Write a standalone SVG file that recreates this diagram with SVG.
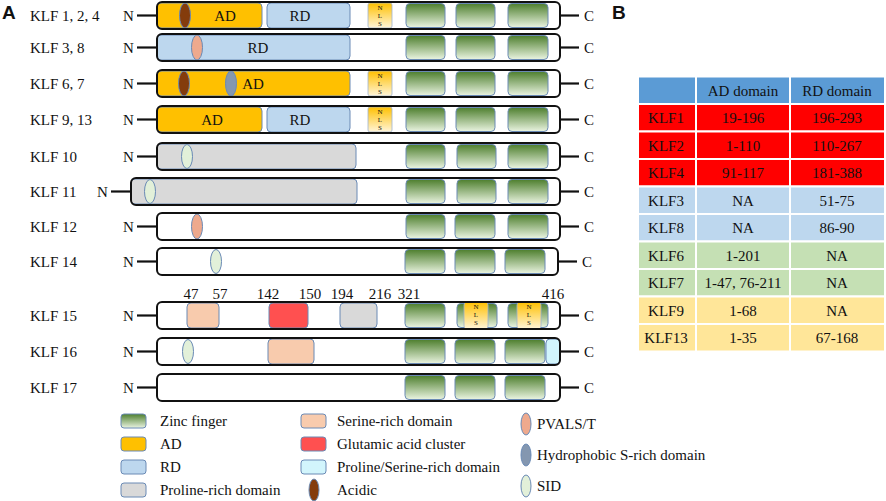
<svg xmlns="http://www.w3.org/2000/svg" width="886" height="501" viewBox="0 0 886 501">
<defs>
<linearGradient id="gzf" x1="0" y1="0" x2="0" y2="1"><stop offset="0" stop-color="#4e7f2e"/><stop offset="1" stop-color="#eaf4e1"/></linearGradient>
<linearGradient id="gnls" x1="0" y1="0" x2="0" y2="1"><stop offset="0" stop-color="#ffc000"/><stop offset="1" stop-color="#fff5da"/></linearGradient>
</defs>
<style>
text{font-family:"Liberation Serif","Times New Roman",serif;font-size:15px;fill:#111}
.hd{font-family:"Liberation Sans",Arial,sans-serif;font-weight:bold;font-size:19px}
.mid{text-anchor:middle}
.nl{font-size:7px;text-anchor:middle}
.bg{fill:#fff}
.bar{fill:none;stroke:#111;stroke-width:2}
.zf{fill:url(#gzf);stroke:#6a8ab5;stroke-width:1}
.nls{fill:url(#gnls);stroke:#9fb3cf;stroke-width:0.8}
.ad{fill:#ffc000;stroke:#6a8ab5;stroke-width:1}
.rd{fill:#bdd7ee;stroke:#6a8ab5;stroke-width:1}
.pro{fill:#d9d9d9;stroke:#6a8ab5;stroke-width:1}
.ser{fill:#f8cbad;stroke:#6a8ab5;stroke-width:1}
.glu{fill:#ff5050;stroke:#6a8ab5;stroke-width:1}
.ps{fill:#d2f5fc;stroke:#6a8ab5;stroke-width:1}
.acid{fill:#843c0c;stroke:#6a8ab5;stroke-width:1}
.hyd{fill:#8497b0;stroke:#6a8ab5;stroke-width:1}
.pv{fill:#eea98d;stroke:#6a8ab5;stroke-width:1}
.sid{fill:#e2f0d9;stroke:#6a8ab5;stroke-width:1}
.ln{stroke:#111;stroke-width:2.2}
.cell{stroke:#fff;stroke-width:2}
</style>

<text class="hd" x="2" y="19">A</text>
<text class="hd" x="612" y="19">B</text>

<g id="connectors">
<line class="ln" x1="137" y1="15.5" x2="157" y2="15.5"/><line class="ln" x1="561" y1="15.5" x2="579" y2="15.5"/>
<line class="ln" x1="137" y1="47.5" x2="157" y2="47.5"/><line class="ln" x1="561" y1="47.5" x2="579" y2="47.5"/>
<line class="ln" x1="137" y1="83.5" x2="157" y2="83.5"/><line class="ln" x1="561" y1="83.5" x2="579" y2="83.5"/>
<line class="ln" x1="137" y1="119.5" x2="157" y2="119.5"/><line class="ln" x1="561" y1="119.5" x2="579" y2="119.5"/>
<line class="ln" x1="137" y1="156.5" x2="157" y2="156.5"/><line class="ln" x1="561" y1="156.5" x2="579" y2="156.5"/>
<line class="ln" x1="111" y1="191.5" x2="131" y2="191.5"/><line class="ln" x1="561" y1="191.5" x2="579" y2="191.5"/>
<line class="ln" x1="137" y1="226.5" x2="157" y2="226.5"/><line class="ln" x1="561" y1="226.5" x2="579" y2="226.5"/>
<line class="ln" x1="137" y1="261.5" x2="157" y2="261.5"/><line class="ln" x1="559" y1="261.5" x2="577" y2="261.5"/>
<line class="ln" x1="137" y1="315.5" x2="157" y2="315.5"/><line class="ln" x1="561" y1="315.5" x2="579" y2="315.5"/>
<line class="ln" x1="137" y1="351.5" x2="157" y2="351.5"/><line class="ln" x1="561" y1="351.5" x2="579" y2="351.5"/>
<line class="ln" x1="137" y1="387.5" x2="157" y2="387.5"/><line class="ln" x1="561" y1="387.5" x2="579" y2="387.5"/>
</g>

<g id="klf1-2-4">
<text x="30" y="20.5">KLF 1, 2, 4</text><text x="123" y="20.5">N</text><text x="584" y="20.5">C</text>
<rect class="bg" x="157" y="2" width="403" height="27" rx="5"/>
<rect class="ad" x="157" y="3" width="105" height="25" rx="4"/>
<rect class="rd" x="267" y="3" width="83" height="25" rx="4"/>
<rect class="nls" x="368" y="3" width="24" height="25" rx="2"/>
<text class="nl" x="380" y="10">N</text><text class="nl" x="380" y="18">L</text><text class="nl" x="380" y="26">S</text>
<rect class="zf" x="406" y="3.5" width="39" height="24" rx="4"/><rect class="zf" x="456" y="3.5" width="39" height="24" rx="4"/><rect class="zf" x="508" y="3.5" width="40" height="24" rx="4"/>
<ellipse class="acid" cx="185" cy="15.5" rx="5.5" ry="12.5"/>
<text class="mid" x="225" y="20.5">AD</text><text class="mid" x="300" y="20.5">RD</text>
<rect class="bar" x="157" y="2" width="403" height="27" rx="5"/>
</g>

<g id="klf3-8">
<text x="30" y="52.5">KLF 3, 8</text><text x="123" y="52.5">N</text><text x="584" y="52.5">C</text>
<rect class="bg" x="157" y="34" width="403" height="27" rx="5"/>
<rect class="rd" x="157" y="35" width="193" height="25" rx="4"/>
<rect class="zf" x="406" y="35.5" width="39" height="24" rx="4"/><rect class="zf" x="456" y="35.5" width="39" height="24" rx="4"/><rect class="zf" x="508" y="35.5" width="40" height="24" rx="4"/>
<ellipse class="pv" cx="197" cy="47.5" rx="5.5" ry="12.5"/>
<text class="mid" x="258" y="52.5">RD</text>
<rect class="bar" x="157" y="34" width="403" height="27" rx="5"/>
</g>

<g id="klf6-7">
<text x="30" y="88.5">KLF 6, 7</text><text x="123" y="88.5">N</text><text x="584" y="88.5">C</text>
<rect class="bg" x="157" y="70" width="403" height="27" rx="5"/>
<rect class="ad" x="157" y="71" width="193" height="25" rx="4"/>
<rect class="nls" x="368" y="71" width="24" height="25" rx="2"/>
<text class="nl" x="380" y="78">N</text><text class="nl" x="380" y="86">L</text><text class="nl" x="380" y="94">S</text>
<rect class="zf" x="406" y="71.5" width="39" height="24" rx="4"/><rect class="zf" x="456" y="71.5" width="39" height="24" rx="4"/><rect class="zf" x="508" y="71.5" width="40" height="24" rx="4"/>
<ellipse class="acid" cx="184" cy="83.5" rx="5.5" ry="12.5"/>
<ellipse class="hyd" cx="231" cy="83.5" rx="5.5" ry="12.5"/>
<text class="mid" x="253" y="88.5">AD</text>
<rect class="bar" x="157" y="70" width="403" height="27" rx="5"/>
</g>

<g id="klf9-13">
<text x="30" y="124.5">KLF 9, 13</text><text x="123" y="124.5">N</text><text x="584" y="124.5">C</text>
<rect class="bg" x="157" y="106" width="403" height="27" rx="5"/>
<rect class="ad" x="157" y="107" width="105" height="25" rx="4"/>
<rect class="rd" x="267" y="107" width="83" height="25" rx="4"/>
<rect class="nls" x="368" y="107" width="24" height="25" rx="2"/>
<text class="nl" x="380" y="114">N</text><text class="nl" x="380" y="122">L</text><text class="nl" x="380" y="130">S</text>
<rect class="zf" x="406" y="107.5" width="39" height="24" rx="4"/><rect class="zf" x="456" y="107.5" width="39" height="24" rx="4"/><rect class="zf" x="508" y="107.5" width="40" height="24" rx="4"/>
<text class="mid" x="212" y="124.5">AD</text><text class="mid" x="300" y="124.5">RD</text>
<rect class="bar" x="157" y="106" width="403" height="27" rx="5"/>
</g>

<g id="klf10">
<text x="30" y="161.5">KLF 10</text><text x="123" y="161.5">N</text><text x="584" y="161.5">C</text>
<rect class="bg" x="157" y="143" width="403" height="27" rx="5"/>
<rect class="pro" x="157" y="144" width="199" height="25" rx="4"/>
<rect class="zf" x="406" y="144.5" width="39" height="24" rx="4"/><rect class="zf" x="457" y="144.5" width="39" height="24" rx="4"/><rect class="zf" x="508" y="144.5" width="40" height="24" rx="4"/>
<ellipse class="sid" cx="187" cy="156.5" rx="5.5" ry="12"/>
<rect class="bar" x="157" y="143" width="403" height="27" rx="5"/>
</g>

<g id="klf11">
<text x="30" y="196.5">KLF 11</text><text x="97" y="196.5">N</text><text x="584" y="196.5">C</text>
<rect class="bg" x="131" y="178" width="429" height="27" rx="5"/>
<rect class="pro" x="131" y="179" width="226" height="25" rx="4"/>
<rect class="zf" x="406" y="179.5" width="39" height="24" rx="4"/><rect class="zf" x="457" y="179.5" width="39" height="24" rx="4"/><rect class="zf" x="508" y="179.5" width="40" height="24" rx="4"/>
<ellipse class="sid" cx="150" cy="191.5" rx="5.5" ry="12"/>
<rect class="bar" x="131" y="178" width="429" height="27" rx="5"/>
</g>

<g id="klf12">
<text x="30" y="231.5">KLF 12</text><text x="123" y="231.5">N</text><text x="584" y="231.5">C</text>
<rect class="bg" x="157" y="213" width="403" height="27" rx="5"/>
<rect class="zf" x="406" y="214.5" width="39" height="24" rx="4"/><rect class="zf" x="455" y="214.5" width="40" height="24" rx="4"/><rect class="zf" x="508" y="214.5" width="40" height="24" rx="4"/>
<ellipse class="pv" cx="197" cy="226.5" rx="5.5" ry="12.5"/>
<rect class="bar" x="157" y="213" width="403" height="27" rx="5"/>
</g>

<g id="klf14">
<text x="30" y="266.5">KLF 14</text><text x="123" y="266.5">N</text><text x="582" y="266.5">C</text>
<rect class="bg" x="157" y="248" width="401" height="27" rx="5"/>
<rect class="zf" x="405" y="249.5" width="40" height="24" rx="4"/><rect class="zf" x="455" y="249.5" width="40" height="24" rx="4"/><rect class="zf" x="505" y="249.5" width="40" height="24" rx="4"/>
<ellipse class="sid" cx="216" cy="261.5" rx="5.5" ry="12"/>
<rect class="bar" x="157" y="248" width="401" height="27" rx="5"/>
</g>

<g id="klf15">
<text x="30" y="320.5">KLF 15</text><text x="123" y="320.5">N</text><text x="584" y="320.5">C</text>
<text class="mid" x="191" y="299">47</text><text class="mid" x="220" y="299">57</text><text class="mid" x="268" y="299">142</text><text class="mid" x="310" y="299">150</text><text class="mid" x="342" y="299">194</text><text class="mid" x="380" y="299">216</text><text class="mid" x="409" y="299">321</text><text class="mid" x="553" y="299">416</text>
<rect class="bg" x="157" y="302" width="403" height="27" rx="5"/>
<rect class="ser" x="187" y="303" width="32" height="25" rx="4"/>
<rect class="glu" x="269" y="303" width="39" height="25" rx="4"/>
<rect class="pro" x="340" y="303" width="37" height="25" rx="4"/>
<rect class="zf" x="405" y="303.5" width="40" height="24" rx="4"/><rect class="zf" x="457" y="303.5" width="40" height="24" rx="4"/><rect class="zf" x="508" y="303.5" width="40" height="24" rx="4"/>
<rect class="nls" x="464" y="302" width="24" height="27" rx="3"/>
<text class="nl" x="476" y="309">N</text><text class="nl" x="476" y="317">L</text><text class="nl" x="476" y="325">S</text>
<rect class="nls" x="517" y="302" width="24" height="27" rx="3"/>
<text class="nl" x="529" y="309">N</text><text class="nl" x="529" y="317">L</text><text class="nl" x="529" y="325">S</text>
<rect class="bar" x="157" y="302" width="403" height="27" rx="5"/>
</g>

<g id="klf16">
<text x="30" y="356.5">KLF 16</text><text x="123" y="356.5">N</text><text x="584" y="356.5">C</text>
<rect class="bg" x="157" y="338" width="403" height="27" rx="5"/>
<rect class="ser" x="268" y="339" width="46" height="25" rx="4"/>
<rect class="zf" x="405" y="339.5" width="40" height="24" rx="4"/><rect class="zf" x="455" y="339.5" width="40" height="24" rx="4"/><rect class="zf" x="505" y="339.5" width="40" height="24" rx="4"/>
<rect class="ps" x="546" y="339" width="14" height="25" rx="4"/>
<ellipse class="sid" cx="188" cy="351.5" rx="5.5" ry="12"/>
<rect class="bar" x="157" y="338" width="403" height="27" rx="5"/>
</g>

<g id="klf17">
<text x="30" y="392.5">KLF 17</text><text x="123" y="392.5">N</text><text x="584" y="392.5">C</text>
<rect class="bg" x="157" y="374" width="403" height="27" rx="5"/>
<rect class="zf" x="405" y="375.5" width="40" height="24" rx="4"/><rect class="zf" x="455" y="375.5" width="40" height="24" rx="4"/><rect class="zf" x="505" y="375.5" width="40" height="24" rx="4"/>
<rect class="bar" x="157" y="374" width="403" height="27" rx="5"/>
</g>

<g id="legend">
<rect class="zf" x="121" y="414" width="25" height="14" rx="3"/><text x="160" y="426">Zinc finger</text>
<rect class="ad" x="121" y="437" width="25" height="14" rx="3"/><text x="160" y="449">AD</text>
<rect class="rd" x="121" y="460" width="25" height="14" rx="3"/><text x="160" y="472">RD</text>
<rect class="pro" x="121" y="483" width="25" height="14" rx="3"/><text x="160" y="495">Proline-rich domain</text>
<rect class="ser" x="301" y="414" width="25" height="14" rx="3"/><text x="337" y="426">Serine-rich domain</text>
<rect class="glu" x="301" y="437" width="25" height="14" rx="3"/><text x="337" y="449">Glutamic acid cluster</text>
<rect class="ps" x="301" y="460" width="25" height="14" rx="3"/><text x="337" y="472">Proline/Serine-rich domain</text>
<ellipse class="acid" cx="314" cy="490" rx="5" ry="11"/><text x="337" y="495">Acidic</text>
<ellipse class="pv" cx="526" cy="424" rx="5" ry="11"/><text x="537" y="429">PVALS/T</text>
<ellipse class="hyd" cx="526" cy="455" rx="5" ry="11"/><text x="537" y="460">Hydrophobic S-rich domain</text>
<ellipse class="sid" cx="526" cy="486" rx="5" ry="11"/><text x="537" y="491">SID</text>
</g>

<g id="table">
<rect class="cell" x="638" y="76.5" width="58" height="27.5" fill="#5b9bd5"/><rect class="cell" x="696" y="76.5" width="94" height="27.5" fill="#5b9bd5"/><rect class="cell" x="790" y="76.5" width="95" height="27.5" fill="#5b9bd5"/>
<text class="mid" x="743" y="95.5">AD domain</text><text class="mid" x="837" y="95.5">RD domain</text>

<rect class="cell" x="638" y="104" width="58" height="27.5" fill="#ff0000"/><rect class="cell" x="696" y="104" width="94" height="27.5" fill="#ff0000"/><rect class="cell" x="790" y="104" width="95" height="27.5" fill="#ff0000"/>
<text class="mid" x="666" y="123">KLF1</text><text class="mid" x="743" y="123">19-196</text><text class="mid" x="837" y="123">196-293</text>
<rect class="cell" x="638" y="131.5" width="58" height="27.5" fill="#ff0000"/><rect class="cell" x="696" y="131.5" width="94" height="27.5" fill="#ff0000"/><rect class="cell" x="790" y="131.5" width="95" height="27.5" fill="#ff0000"/>
<text class="mid" x="666" y="150.5">KLF2</text><text class="mid" x="743" y="150.5">1-110</text><text class="mid" x="837" y="150.5">110-267</text>
<rect class="cell" x="638" y="159" width="58" height="27.5" fill="#ff0000"/><rect class="cell" x="696" y="159" width="94" height="27.5" fill="#ff0000"/><rect class="cell" x="790" y="159" width="95" height="27.5" fill="#ff0000"/>
<text class="mid" x="666" y="178">KLF4</text><text class="mid" x="743" y="178">91-117</text><text class="mid" x="837" y="178">181-388</text>

<rect class="cell" x="638" y="186.5" width="58" height="27.5" fill="#bdd7ee"/><rect class="cell" x="696" y="186.5" width="94" height="27.5" fill="#bdd7ee"/><rect class="cell" x="790" y="186.5" width="95" height="27.5" fill="#bdd7ee"/>
<text class="mid" x="666" y="205.5">KLF3</text><text class="mid" x="743" y="205.5">NA</text><text class="mid" x="837" y="205.5">51-75</text>
<rect class="cell" x="638" y="214" width="58" height="27.5" fill="#bdd7ee"/><rect class="cell" x="696" y="214" width="94" height="27.5" fill="#bdd7ee"/><rect class="cell" x="790" y="214" width="95" height="27.5" fill="#bdd7ee"/>
<text class="mid" x="666" y="233">KLF8</text><text class="mid" x="743" y="233">NA</text><text class="mid" x="837" y="233">86-90</text>

<rect class="cell" x="638" y="241.5" width="58" height="27.5" fill="#c5e0b4"/><rect class="cell" x="696" y="241.5" width="94" height="27.5" fill="#c5e0b4"/><rect class="cell" x="790" y="241.5" width="95" height="27.5" fill="#c5e0b4"/>
<text class="mid" x="666" y="260.5">KLF6</text><text class="mid" x="743" y="260.5">1-201</text><text class="mid" x="837" y="260.5">NA</text>
<rect class="cell" x="638" y="269" width="58" height="27.5" fill="#c5e0b4"/><rect class="cell" x="696" y="269" width="94" height="27.5" fill="#c5e0b4"/><rect class="cell" x="790" y="269" width="95" height="27.5" fill="#c5e0b4"/>
<text class="mid" x="666" y="288">KLF7</text><text class="mid" x="743" y="288">1-47, 76-211</text><text class="mid" x="837" y="288">NA</text>

<rect class="cell" x="638" y="296.5" width="58" height="27.5" fill="#ffe699"/><rect class="cell" x="696" y="296.5" width="94" height="27.5" fill="#ffe699"/><rect class="cell" x="790" y="296.5" width="95" height="27.5" fill="#ffe699"/>
<text class="mid" x="666" y="315.5">KLF9</text><text class="mid" x="743" y="315.5">1-68</text><text class="mid" x="837" y="315.5">NA</text>
<rect class="cell" x="638" y="324" width="58" height="27.5" fill="#ffe699"/><rect class="cell" x="696" y="324" width="94" height="27.5" fill="#ffe699"/><rect class="cell" x="790" y="324" width="95" height="27.5" fill="#ffe699"/>
<text class="mid" x="666" y="343">KLF13</text><text class="mid" x="743" y="343">1-35</text><text class="mid" x="837" y="343">67-168</text>
</g>
</svg>
